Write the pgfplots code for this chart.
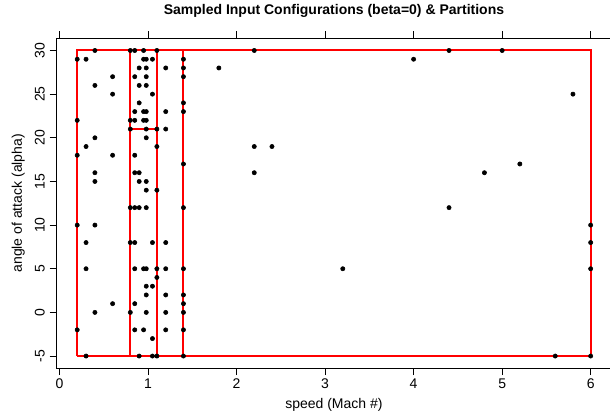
\documentclass[border=0pt]{standalone}
\usepackage{fontspec}
\setmainfont{Liberation Sans}
\usepackage{pgfplots}
\usepackage{pgfplotstable}
\pgfplotsset{compat=1.18}

% sampled (speed, alpha) configurations
\pgfplotstableread{
x y
0.2 29
0.2 22
0.2 18
0.2 10
0.2 -2
0.3 29
0.3 19
0.3 8
0.3 5
0.3 -5
0.4 30
0.4 26
0.4 20
0.4 16
0.4 15
0.4 10
0.4 0
0.6 27
0.6 25
0.6 18
0.6 1
0.8 30
0.8 22
0.8 21
0.8 12
0.8 8
0.8 0
0.85 30
0.85 27
0.85 23
0.85 22
0.85 18
0.85 16
0.85 12
0.85 8
0.85 5
0.85 1
0.85 -2
0.9 28
0.9 26
0.9 24
0.9 16
0.9 15
0.9 12
0.9 -5
0.95 30
0.95 29
0.95 23
0.95 22
0.95 5
0.95 -2
0.98 29
0.98 28
0.98 27
0.98 26
0.98 23
0.98 22
0.98 21
0.98 20
0.98 15
0.98 14
0.98 12
0.98 5
0.98 3
0.98 2
0.98 0
1.05 29
1.05 25
1.05 8
1.05 3
1.05 -3
1.05 -5
1.1 30
1.1 21
1.1 19
1.1 14
1.1 5
1.1 4
1.1 -5
1.2 28
1.2 23
1.2 21
1.2 8
1.2 5
1.2 2
1.2 0
1.2 -2
1.4 29
1.4 28
1.4 27
1.4 24
1.4 23
1.4 17
1.4 12
1.4 5
1.4 2
1.4 1
1.4 0
1.4 -2
1.4 -5
1.8 28
2.2 30
2.2 19
2.2 16
2.4 19
3.2 5
4.0 29
4.4 30
4.4 12
4.8 16
5.0 30
5.2 17
5.6 -5
5.8 25
6.0 10
6.0 8
6.0 5
6.0 -5
}\samples

\begin{document}
\begin{tikzpicture}
\path[use as bounding box] (-42.5pt,-32.8pt) rectangle (415pt,276.2pt);
\begin{axis}[
  at={(0,0)}, anchor=south west,
  scale only axis,
  width=415.9pt, height=247.5pt,
  xmin=-0.032, xmax=6.232,
  ymin=-6.4, ymax=31.4,
  xtick={0,1,2,3,4,5,6},
  ytick={-5,0,5,10,15,20,25,30},
  tick align=outside,
  major tick length=5.2pt,
  tick style={black, line width=0.75pt},
  axis line style={line width=0.75pt},
  /pgf/number format/assume math mode=true,
  tick label style={font=\fontsize{10.5}{12}\selectfont},
  xticklabel style={anchor=north, inner sep=0pt, yshift=-2.6pt},
  yticklabel style={xshift=-3.5pt, rotate=90, anchor=south, inner sep=0pt},
  xlabel={speed (Mach \#)},
  ylabel={angle of attack (alpha)},
  label style={font=\fontsize{10.5}{12}\selectfont},
  xlabel style={at={(axis description cs:0.5,-0.1233)}, anchor=base},
  ylabel style={at={(axis description cs:-0.0626,0.5)}, anchor=base},
  title={Sampled Input Configurations (beta=0) \& Partitions},
  title style={font=\bfseries\fontsize{10.5}{12}\selectfont, at={(axis description cs:0.5,1.0479)}, anchor=base},
  clip=false,
]
% partitions
\addplot[red, line width=1.5pt] coordinates {(0.2,-5) (0.8,-5) (0.8,30) (0.2,30) (0.2,-5)};
\addplot[red, line width=1.5pt] coordinates {(0.8,-5) (1.1,-5) (1.1,21) (0.8,21) (0.8,-5)};
\addplot[red, line width=1.5pt] coordinates {(0.8,21) (1.1,21) (1.1,30) (0.8,30) (0.8,21)};
\addplot[red, line width=1.5pt] coordinates {(1.1,-5) (1.4,-5) (1.4,30) (1.1,30) (1.1,-5)};
\addplot[red, line width=1.5pt] coordinates {(1.4,-5) (6,-5) (6,30) (1.4,30) (1.4,-5)};
% samples
\addplot[only marks, mark=*, mark size=1.6pt, black] table[x=x, y=y] {\samples};
\end{axis}
\end{tikzpicture}
\end{document}
